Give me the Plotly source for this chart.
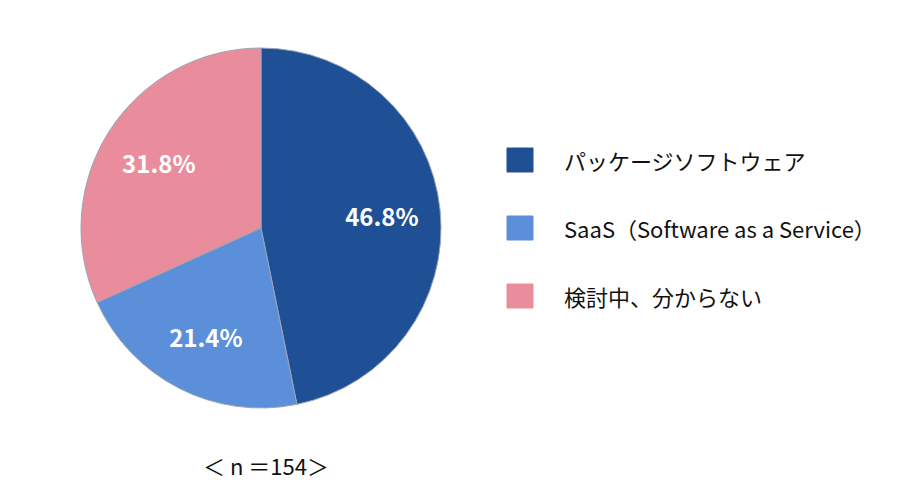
import plotly.graph_objects as go

labels = ["パッケージソフトウェア", "SaaS（Software as a Service）", "検討中、分からない"]
values = [46.8, 21.4, 31.8]
colors = ["#1F5096", "#5B8FD9", "#E98D9C"]
note = "＜ n ＝154＞"

FONT = "Noto Sans CJK JP"
W, H = 900, 503
OX, OY = 8, 8  # page body offset


def px(x):
    return (x - OX) / W


def py(y):
    return 1 - (y - OY) / H


dom = dict(x=[px(81), px(441)], y=[py(408), py(48)])

fig = go.Figure()
fig.add_trace(go.Pie(
    labels=labels,
    values=values,
    sort=False,
    direction="clockwise",
    rotation=0,
    marker=dict(colors=colors, line=dict(color="#9AA4B4", width=1)),
    textinfo="none",
    domain=dom,
    showlegend=False,
    hoverinfo="label+value",
))
fig.add_trace(go.Pie(
    labels=labels,
    values=values,
    sort=False,
    direction="clockwise",
    rotation=0,
    hole=0.35,
    marker=dict(colors=["rgba(0,0,0,0)"] * 3, line=dict(width=0)),
    texttemplate="%{value:.1f}%",
    textposition="inside",
    insidetextorientation="horizontal",
    textfont=dict(family=FONT, size=24, color="white", weight=600),
    domain=dom,
    showlegend=False,
    hoverinfo="skip",
))

shapes = []
annotations = []
legend_y = [160, 228, 296]
for lab, col, yc in zip(labels, colors, legend_y):
    shapes.append(dict(type="rect", xref="paper", yref="paper",
                       x0=px(507), x1=px(533),
                       y0=py(yc + 12), y1=py(yc - 12),
                       fillcolor=col, line=dict(color=col, width=1)))
    annotations.append(dict(text=lab, xref="paper", yref="paper",
                            x=px(562), y=py(yc), xanchor="left", yanchor="middle",
                            showarrow=False,
                            font=dict(family=FONT, size=22, color="#111111")))

annotations.append(dict(text=note, xref="paper", yref="paper",
                        x=px(266), y=py(465), xanchor="center", yanchor="middle",
                        showarrow=False,
                        font=dict(family=FONT, size=22, color="#111111")))

fig.update_layout(
    width=W, height=H,
    margin=dict(l=0, r=0, t=0, b=0),
    paper_bgcolor="white",
    plot_bgcolor="white",
    shapes=shapes,
    annotations=annotations,
    font=dict(family=FONT),
)

fig.write_html("out.html")
